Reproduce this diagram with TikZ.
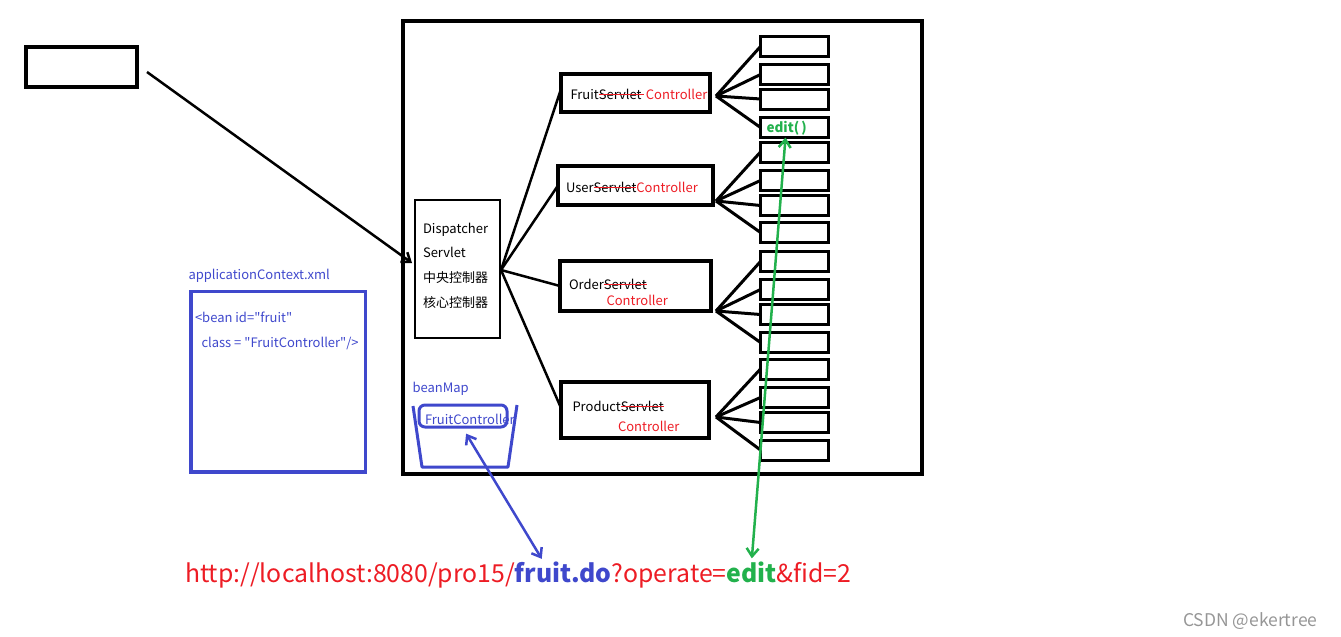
\documentclass[tikz,border=0pt]{standalone}
\usepackage{fontspec}
\setmainfont{Noto Sans CJK SC}
\usetikzlibrary{arrows.meta}
\definecolor{pred}{RGB}{237,28,36}
\definecolor{pblue}{RGB}{63,72,204}
\definecolor{pgreen}{RGB}{34,177,76}
\definecolor{wgray}{RGB}{150,150,150}
\newsavebox{\stkbox}
\newcommand{\rstrike}[1]{\sbox{\stkbox}{#1}\usebox{\stkbox}\llap{\textcolor{pred}{\rule[0.32em]{\wd\stkbox}{0.9pt}}}}
\newcommand{\sq}{\XeTeXglyph\the\XeTeXcharglyph"22\relax}
\begin{document}
\begin{tikzpicture}[x=1pt,y=-1pt,
  font=\fontsize{13}{15}\selectfont,
  thickbox/.style={draw=black, line width=4pt, inner sep=0pt, outer sep=0pt},
  smallbox/.style={draw=black, line width=3pt, inner sep=0pt, outer sep=0pt, minimum width=68pt, minimum height=20pt},
  txt/.style={anchor=base west, inner sep=0pt, outer sep=0pt},
  fan/.style={draw=black, line width=3pt},
  dline/.style={draw=black, line width=2.5pt},
  bluetxt/.style={txt, text=pblue},
  urltxt/.style={txt, font=\fontsize{24.8}{28}\selectfont},
  barb/.style={-{Straight Barb[length=8pt,width=12pt]}},
  dbarb/.style={{Straight Barb[length=8pt,width=12pt]}-{Straight Barb[length=8pt,width=12pt]}}
]
\useasboundingbox (0,0) rectangle (1341,637);

% client box
\node[thickbox, minimum width=111pt, minimum height=40pt] (client) at (81.5,67) {};
% container
\node[thickbox, minimum width=519pt, minimum height=453pt] (server) at (662.5,247.5) {};

% dispatcher
\node[draw=black, line width=2pt, inner sep=0pt, minimum width=85pt, minimum height=138pt] (disp) at (457.5,269) {};
\node[txt] (d1) at (423,233) {Dispatcher};
\node[txt] (d2) at (423,257) {Servlet};
\node[txt] (d3) at (423,282) {中央控制器};
\node[txt] (d4) at (423,307) {核心控制器};

% arrow client -> dispatcher
\coordinate (a0) at (147,72);
\draw[dline, barb] (a0) -- ([xshift=-2pt,yshift=6pt]disp.west);

% servlet boxes
\node[thickbox, minimum width=149pt, minimum height=38pt] (fr) at (635.5,93) {};
\node[thickbox, minimum width=155pt, minimum height=39pt] (us) at (635.5,185.5) {};
\node[thickbox, minimum width=151pt, minimum height=50pt] (or) at (635.5,286) {};
\node[thickbox, minimum width=148pt, minimum height=56pt] (pr) at (635,410) {};

\node[txt] (frt) at (570.5,99) {Fruit\rstrike{Servlet\,}\textcolor{pred}{\,Controller}};
\node[txt] (ust) at (566,192.5) {User\rstrike{Servlet}\textcolor{pred}{Controller}};
\node[txt] (ort) at (569,289) {Order\rstrike{Servlet}};
\node[txt, text=pred] (ort2) at (606.5,305) {Controller};
\node[txt] (prt) at (572.5,411) {Product\rstrike{Servlet}};
\node[txt, text=pred] (prt2) at (618,431.5) {Controller};

% dispatcher lines
\coordinate (dp) at (501,270);
\draw[dline] (dp) -- ([yshift=4pt]fr.west);
\draw[dline] (dp) -- (us.west);
\draw[dline] (dp) -- (or.west);
\draw[dline] (dp) -- ([yshift=2pt]pr.west);

% small boxes
\foreach \i/\y in {1/46.5, 2/74.5, 3/99, 4/127.5, 5/152, 6/180.5, 7/205.5, 8/232.5,
                   9/261.5, 10/289.5, 11/314.5, 12/342.5, 13/369, 14/397.5, 15/422.5, 16/450}
  {\node[smallbox] (s\i) at (794.5,\y) {};}

\node[txt, text=pgreen, font=\fontsize{13.5}{16}\selectfont\bfseries] (edt) at (766.5,132.5) {edit(\,)};

% fans
\coordinate (ff) at (716,96);
\coordinate (uf) at (716,201);
\coordinate (of) at (716,311);
\coordinate (pf) at (716,417);
\foreach \i in {1,2,3,4} {\draw[fan] (ff) -- (s\i.west);}
\foreach \i in {5,6,7,8} {\draw[fan] (uf) -- (s\i.west);}
\foreach \i in {9,10,11,12} {\draw[fan] (of) -- (s\i.west);}
\foreach \i in {13,14,15,16} {\draw[fan] (pf) -- (s\i.west);}

% applicationContext
\node[bluetxt] (act) at (188.5,279.5) {applicationContext.xml};
\node[draw=pblue, line width=3.3pt, inner sep=0pt, minimum width=174.5pt, minimum height=180.5pt] (acbox) at (278.25,381.75) {};
\node[bluetxt] (ac1) at (195,322) {<bean id=\sq fruit\sq};
\node[bluetxt] (ac2) at (201.5,347) {class = \sq FruitController\sq/>};

% beanMap bucket
\node[bluetxt] (bm) at (412.5,392) {beanMap};
\coordinate (k1) at (413,406);
\coordinate (k2) at (422,467);
\coordinate (k3) at (508,467);
\coordinate (k4) at (517,405);
\draw[pblue, line width=3pt, line join=round] (k1) -- (k2) -- (k3) -- (k4);
\node[draw=pblue, line width=3pt, rounded corners=6pt, inner sep=0pt, minimum width=88pt, minimum height=22pt] (fcbox) at (463,416) {};
\node[bluetxt] (fct) at (425,424) {FruitController};

% URL
\node[urltxt, text=pred] (u1) at (185,582) {http://localhost:8080/pro15/};
\node[urltxt, text=pblue, font=\fontsize{24.8}{28}\selectfont\bfseries] (u2) at (u1.base east) {fruit.do};
\node[urltxt, text=pred] (u3) at (u2.base east) {?operate=};
\node[urltxt, text=pgreen, font=\fontsize{24.8}{28}\selectfont\bfseries] (u4) at (u3.base east) {edit};
\node[urltxt, text=pred] (u5) at (u4.base east) {\&fid=2};

% arrows to URL
\draw[pblue, line width=2.5pt, dbarb, shorten <=6pt, shorten >=3pt] (fcbox.south) -- ([xshift=-20pt]u2.north);
\draw[pgreen, line width=2.5pt, dbarb, shorten >=3pt] ([xshift=-9pt]s4.south) -- ([xshift=0pt]u4.north);

% watermark
\node[txt, text=wgray, font=\fontsize{17.5}{20}\selectfont] (wm) at (1183,626) {CSDN @ekertree};
\end{tikzpicture}
\end{document}
